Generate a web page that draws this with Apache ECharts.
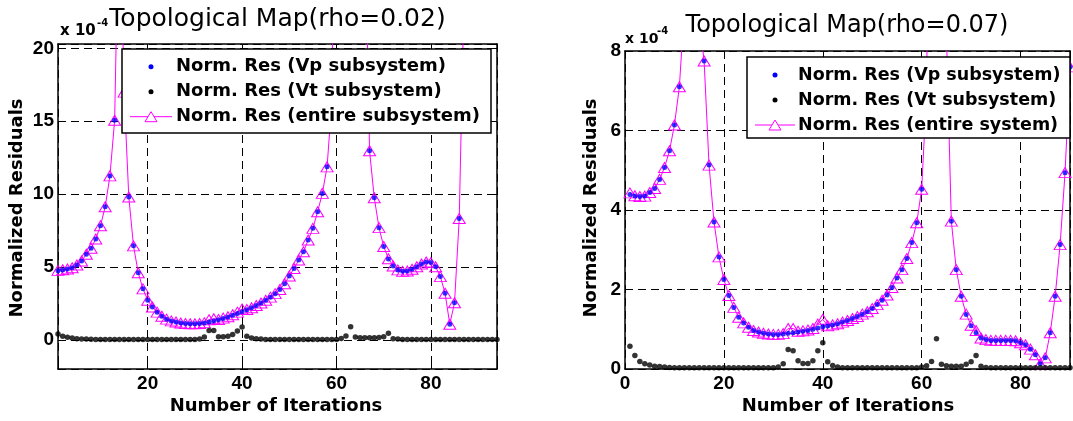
<!DOCTYPE html>
<html><head><meta charset="utf-8">
<script src="https://cdn.jsdelivr.net/npm/echarts@6/dist/echarts.min.js"></script>
<style>html,body{margin:0;padding:0;background:#fff}#c{width:1073px;height:421px}</style>
</head><body><div id="c"></div><script>
// ---------- data ----------
const leftIter = [1,2,3,4,5,6,7,8,9,10,11,12,13,14,15,16,17,18,19,20,21,22,23,24,25,26,27,28,29,30,
 31,32,33,34,35,36,37,38,39,40,41,42,43,44,45,46,47,48,49,50,51,52,53,54,55,56,57,58,59,60,
 61,62,63,64,65,66,67,68,69,70,71,72,73,74,75,76,77,78,79,80,81,82,83,84,85,86,87,88,89,90,91,92,93,94];
const leftVp = [4.75,4.80,4.86,4.95,5.14,5.41,5.87,6.28,6.92,7.83,
 9.13,11.25,15.07,32.0,17.0,9.8,6.45,4.6,3.5,2.72,
 2.25,1.9,1.62,1.42,1.3,1.22,1.16,1.12,1.1,1.1,
 1.12,1.16,1.22,1.3,1.38,1.47,1.57,1.68,1.8,1.93,
 2.06,2.2,2.36,2.53,2.72,2.93,3.17,3.45,3.85,4.38,
 4.9,5.48,6.05,6.85,7.65,8.79,10.05,11.87,16.3,45,
 70,80,80,70,50,30,12.97,9.75,7.7,6.4,
 5.55,5.07,4.8,4.7,4.72,4.84,5.02,5.2,5.34,5.3,
 5.02,4.34,3.2,1.07,2.55,8.33,23.5,40,55,65,
 72,78,82,85];
const leftVt = [0.41,0.25,0.17,0.12,0.08,0.06,0.05,0.04,0.03,0.03,
 0.02,0.02,0.02,0.02,0.02,0.02,0.02,0.02,0.02,0.02,
 0.02,0.02,0.02,0.02,0.02,0.02,0.02,0.02,0.02,0.02,
 0.05,0.2,0.65,0.65,0.22,0.22,0.25,0.36,0.6,0.88,
 0.25,0.12,0.08,0.05,0.03,0.03,0.03,0.03,0.03,0.03,
 0.03,0.03,0.03,0.03,0.03,0.03,0.03,0.03,0.03,0.03,
 0.1,0.27,0.9,0.2,0.15,0.15,0.15,0.15,0.16,0.22,
 0.45,0.08,0.05,0.02,0.02,0.02,0.02,0.02,0.02,0.02,
 0.02,0.02,0.02,0.02,0.02,0.02,0.02,0.02,0.02,0.02,
 0.02,0.02,0.02,0.02];
const leftAll = [4.77,4.81,4.86,4.95,5.14,5.41,5.87,6.28,6.92,7.83,
 9.13,11.25,15.07,32.0,17.0,9.8,6.45,4.6,3.5,2.72,
 2.25,1.9,1.62,1.42,1.3,1.22,1.16,1.12,1.1,1.1,
 1.12,1.18,1.38,1.45,1.40,1.49,1.59,1.72,1.90,2.12,
 2.08,2.2,2.36,2.53,2.72,2.93,3.17,3.45,3.85,4.38,
 4.9,5.48,6.05,6.85,7.65,8.79,10.05,11.87,16.3,45,
 70,80,80,70,50,30,12.97,9.75,7.7,6.4,
 5.57,5.07,4.8,4.7,4.72,4.84,5.02,5.2,5.34,5.3,
 5.02,4.34,3.2,1.07,2.55,8.33,23.5,40,55,65,
 72,78,82,85];

const rightIter = [1,2,3,4,5,6,7,8,9,10,11,12,13,14,15,16,17,18,19,20,21,22,23,24,25,26,27,28,29,30,
 31,32,33,34,35,36,37,38,39,40,41,42,43,44,45,46,47,48,49,50,51,52,53,54,55,56,57,58,59,60,
 61,62,63,64,65,66,67,68,69,70,71,72,73,74,75,76,77,78,79,80,81,82,83,84,85,86,87,88,89,90];
const rightVp = [4.39,4.35,4.34,4.35,4.44,4.54,4.77,5.07,5.49,6.14,
 7.1,9.1,12,12,8.8,7.75,5.13,3.7,2.82,2.25,
 1.85,1.55,1.3,1.16,1.05,0.97,0.93,0.9,0.88,0.87,
 0.87,0.88,0.9,0.91,0.93,0.95,0.97,1.0,1.03,1.06,
 1.08,1.11,1.14,1.18,1.22,1.27,1.32,1.38,1.44,1.52,
 1.62,1.73,1.86,2.05,2.29,2.5,2.78,3.18,3.68,4.52,
 7.0,20,30,20,8.5,3.72,2.5,1.83,1.37,1.09,
 0.91,0.78,0.74,0.72,0.72,0.72,0.72,0.72,0.71,0.66,
 0.61,0.5,0.36,0.13,0.28,0.91,1.83,3.13,4.94,7.6];
const rightVt = [0.57,0.34,0.19,0.13,0.1,0.07,0.06,0.05,0.04,0.03,
 0.03,0.03,0.03,0.03,0.03,0.03,0.03,0.03,0.03,0.03,
 0.03,0.03,0.03,0.03,0.03,0.03,0.03,0.03,0.03,0.03,
 0.05,0.13,0.49,0.46,0.21,0.14,0.14,0.21,0.46,0.66,
 0.18,0.09,0.05,0.03,0.03,0.03,0.03,0.03,0.03,0.03,
 0.03,0.03,0.03,0.03,0.03,0.03,0.03,0.03,0.03,0.05,
 0.08,0.19,0.76,0.12,0.08,0.07,0.07,0.07,0.12,0.18,
 0.34,0.07,0.04,0.03,0.03,0.03,0.03,0.03,0.03,0.03,
 0.03,0.03,0.03,0.03,0.03,0.03,0.03,0.03,0.03,0.03];
const rightAll = [4.43,4.36,4.34,4.35,4.44,4.54,4.77,5.07,5.49,6.14,
 7.1,9.1,12,12,8.8,7.75,5.13,3.7,2.82,2.25,
 1.85,1.55,1.3,1.16,1.05,0.97,0.93,0.9,0.88,0.87,
 0.87,0.89,1.02,1.02,0.95,0.96,0.98,1.02,1.13,1.25,
 1.09,1.11,1.14,1.18,1.22,1.27,1.32,1.38,1.44,1.52,
 1.62,1.73,1.86,2.05,2.29,2.5,2.78,3.18,3.68,4.52,
 7.0,20,30,20,8.5,3.72,2.5,1.83,1.38,1.10,
 0.97,0.78,0.74,0.72,0.72,0.72,0.72,0.72,0.71,0.66,
 0.61,0.5,0.36,0.13,0.28,0.91,1.83,3.13,4.94,7.6];

const leftXTicks = [20,40,60,80];
const leftYTicks = [0,5,10,15,20];
const rightXTicks = [0,20,40,60,80];
const rightYTicks = [0,2,4,6,8];
const leftNames = ['Norm. Res (Vp subsystem)','Norm. Res (Vt subsystem)','Norm. Res (entire subsystem)'];
const rightNames = ['Norm. Res (Vp subsystem)','Norm. Res (Vt subsystem)','Norm. Res (entire system)'];
const titles = ['Topological Map(rho=0.02)','Topological Map(rho=0.07)'];
const xTitle = 'Number of Iterations';
const yTitle = 'Normalized Residuals';
const scaleText = 'x 10', scaleExp = '-4';

// ---------- build ----------
const pairs = (xs, ys) => xs.map((x, i) => [x, ys[i]]);
const BLUE = '#0000ff', MAG = '#ff00ff';
const TICKFONT = {fontFamily: 'Liberation Sans', fontWeight: 'bold', fontSize: 19, color: '#000'};
const grid = [
  {left: 58, top: 44, width: 439, height: 325, show: false},
  {left: 625, top: 51, width: 447, height: 318, show: false}
];
function axis(gi, min, max, ticks, pos, main) {
  return {
    type: 'value', gridIndex: gi, min: min, max: max, position: pos,
    axisLine: {show: true, onZero: false, lineStyle: {color: '#000', width: 1.5}},
    axisTick: {show: true, inside: true, length: 5, lineStyle: {color: '#000', width: 1}},
    axisLabel: main ? Object.assign({show: true, margin: (pos === 'bottom' ? 5 : 4),
      formatter: v => ticks.some(t => Math.abs(t - v) < 1e-9) ? String(v) : ''}, TICKFONT) : {show: false},
    splitLine: main ? {show: true, lineStyle: {color: '#000', type: [8, 5], width: 1}} : {show: false}
  };
}
const xAxis = [
  axis(0, 1, 94, leftXTicks, 'bottom', true), axis(0, 1, 94, leftXTicks, 'top', false),
  axis(1, 0, 90, rightXTicks, 'bottom', true), axis(1, 0, 90, rightXTicks, 'top', false)
];
const yAxis = [
  axis(0, -2, 20.3, leftYTicks, 'left', true), axis(0, -2, 20.3, leftYTicks, 'right', false),
  axis(1, 0, 8, rightYTicks, 'left', true), axis(1, 0, 8, rightYTicks, 'right', false)
];
function seriesFor(xi, yi, it, vp, vt, all, names) {
  return [
    {type: 'line', name: names[2], xAxisIndex: xi, yAxisIndex: yi, data: pairs(it, all), clip: true,
     symbol: 'triangle', symbolSize: [12, 10], showSymbol: true, showAllSymbol: true,
     lineStyle: {color: MAG, width: 1}, itemStyle: {color: 'rgba(0,0,0,0)', borderColor: MAG, borderWidth: 1},
     z: 3, animation: false, emphasis: {disabled: true}},
    {type: 'scatter', name: names[0], xAxisIndex: xi, yAxisIndex: yi, data: pairs(it, vp), clip: true,
     symbol: 'circle', symbolSize: 5, itemStyle: {color: BLUE}, z: 4, animation: false},
    {type: 'scatter', name: names[1], xAxisIndex: xi, yAxisIndex: yi, data: pairs(it, vt), clip: true,
     symbol: 'circle', symbolSize: 5.5, itemStyle: {color: '#000'}, z: 4, animation: false}
  ];
}
const series = [].concat(
  seriesFor(0, 0, leftIter, leftVp, leftVt, leftAll, leftNames),
  seriesFor(2, 2, rightIter, rightVp, rightVt, rightAll, rightNames)
);

function txt(x, y, text, font, align, valign, rot) {
  const e = {type: 'text', x: x, y: y, z: 200,
    style: {text: text, x: 0, y: 0, font: font, fill: '#000',
      textAlign: align, textVerticalAlign: valign, align: align, verticalAlign: valign}};
  if (rot) e.rotation = rot;
  return e;
}
function legend(bx, by, bw, bh, rows, lx1, lx2, icx, tx, names, fs) {
  const f = 'bold ' + fs + 'px "DejaVu Sans"';
  return [
    {type: 'rect', z: 150, shape: {x: bx, y: by, width: bw, height: bh}, style: {fill: '#fff', stroke: '#000', lineWidth: 1.5}},
    {type: 'circle', z: 160, shape: {cx: icx, cy: rows[0], r: 2.5}, style: {fill: BLUE}},
    {type: 'circle', z: 160, shape: {cx: icx, cy: rows[1], r: 2.5}, style: {fill: '#000'}},
    {type: 'line', z: 160, shape: {x1: lx1, y1: rows[2], x2: lx2, y2: rows[2]}, style: {stroke: MAG, lineWidth: 1}},
    {type: 'polygon', z: 161, shape: {points: [[icx - 6, rows[2] + 5], [icx + 6, rows[2] + 5], [icx, rows[2] - 5]]},
     style: {fill: '#fff', stroke: MAG, lineWidth: 1}},
    txt(tx, rows[0], names[0], f, 'left', 'middle'),
    txt(tx, rows[1], names[1], f, 'left', 'middle'),
    txt(tx, rows[2], names[2], f, 'left', 'middle')
  ];
}
const AF = 'bold 18px "DejaVu Sans"';
const graphic = [].concat(
  [txt(277.5, 19, titles[0], 'normal 25px "DejaVu Sans"', 'center', 'middle'),
   txt(847, 26, titles[1], 'normal 24px "DejaVu Sans"', 'center', 'middle'),
   txt(60, 31, scaleText, 'bold 15px "DejaVu Sans"', 'left', 'middle'),
   txt(97, 23, scaleExp, 'bold 10px "DejaVu Sans"', 'left', 'middle'),
   txt(625, 39, scaleText, 'bold 14px "DejaVu Sans"', 'left', 'middle'),
   txt(657, 31, scaleExp, 'bold 10px "DejaVu Sans"', 'left', 'middle'),
   txt(276, 406, xTitle, AF, 'center', 'middle'),
   txt(848, 406, xTitle, AF, 'center', 'middle'),
   txt(17, 208, yTitle, AF, 'center', 'middle', Math.PI / 2),
   txt(591, 208, yTitle, AF, 'center', 'middle', Math.PI / 2)],
  legend(122, 49, 369, 84, [66.7, 91.7, 116.7], 130, 172, 151, 176, leftNames, 18),
  legend(747, 57, 323, 81, [75, 100, 125], 755, 795, 775, 798, rightNames, 17.5)
);

const chart = echarts.init(document.getElementById('c'), null, {renderer: 'canvas'});
chart.setOption({
  animation: false, backgroundColor: '#fff',
  grid: grid, xAxis: xAxis, yAxis: yAxis, series: series, graphic: graphic
});
</script></body></html>
